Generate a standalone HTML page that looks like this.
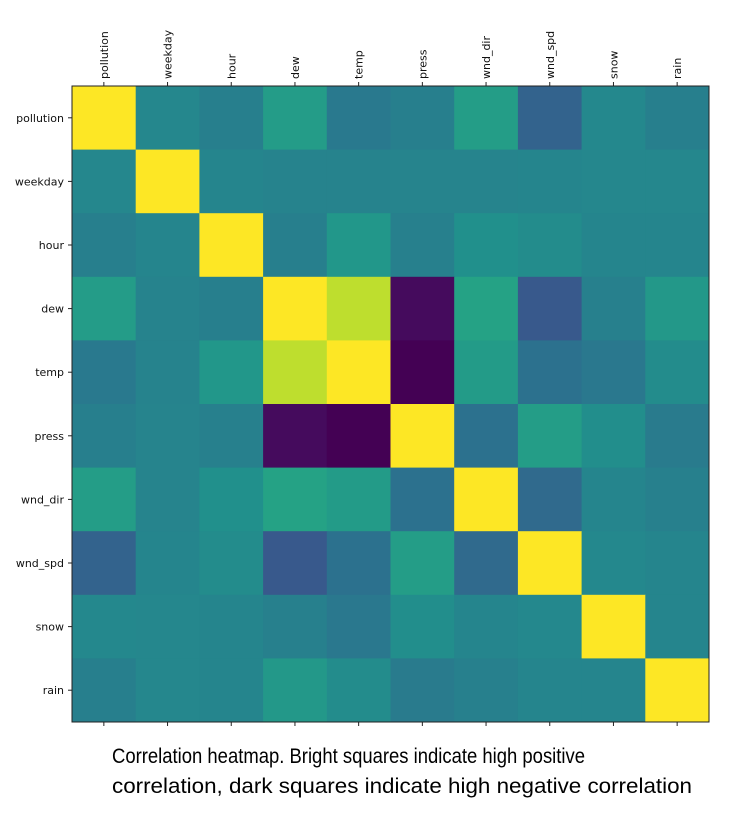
<!DOCTYPE html>
<html><head><meta charset="utf-8"><style>
html,body{margin:0;padding:0;background:#fff;}
svg{display:block;font-family:"DejaVu Sans","Liberation Sans",sans-serif;}
</style></head><body>
<svg id="chart" width="744" height="815" viewBox="0 0 744 815" xmlns="http://www.w3.org/2000/svg">
<g id="cells"></g>
<rect x="72" y="86" width="637" height="636" fill="none" stroke="#222" stroke-width="1"/>
<g id="axes"></g>
<text x="112" y="763" font-family="Liberation Sans, sans-serif" font-size="21" fill="#000" textLength="473" lengthAdjust="spacingAndGlyphs">Correlation heatmap. Bright squares indicate high positive</text>
<text x="112" y="793" font-family="Liberation Sans, sans-serif" font-size="21" fill="#000" textLength="580" lengthAdjust="spacingAndGlyphs">correlation, dark squares indicate high negative correlation</text>
</svg>
<script>
const labels = ["pollution","weekday","hour","dew","temp","press","wnd_dir","wnd_spd","snow","rain"];
const rowPollution = [1,0.01,-0.05,0.17,-0.09,-0.05,0.18,-0.25,0.02,-0.05];
const rowWeekday = [0.01,1,0.0,-0.02,-0.02,-0.01,-0.01,0.0,0.01,0.01];
const rowHour = [-0.05,0.0,1,-0.05,0.13,-0.04,0.08,0.05,0.0,0.0];
const rowDew = [0.17,-0.02,-0.05,1,0.82,-0.78,0.22,-0.32,-0.04,0.14];
const rowTemp = [-0.09,-0.02,0.13,0.82,1,-0.83,0.16,-0.15,-0.1,0.05];
const rowPress = [-0.05,-0.01,-0.04,-0.78,-0.83,1,-0.15,0.18,0.06,-0.08];
const rowWndDir = [0.18,-0.01,0.08,0.22,0.16,-0.15,1,-0.2,0.0,-0.04];
const rowWndSpd = [-0.25,0.0,0.05,-0.32,-0.15,0.18,-0.2,1,0.02,0.0];
const rowSnow = [0.02,0.01,0.0,-0.04,-0.1,0.06,0.0,0.02,1,0.0];
const rowRain = [-0.05,0.01,0.0,0.14,0.05,-0.08,-0.04,0.0,0.0,1];
const matrix = [rowPollution,rowWeekday,rowHour,rowDew,rowTemp,rowPress,rowWndDir,rowWndSpd,rowSnow,rowRain];

const X0=72,Y0=86,W=637,H=636;
const n=labels.length, cw=W/n, ch=H/n;
const xPos=i=>X0+i*cw, yPos=i=>Y0+i*ch;
const flat=matrix.flat(), vmin=Math.min(...flat), vmax=Math.max(...flat);
const stops=[[0,[68,1,84]],[0.125,[71,45,123]],[0.25,[59,82,139]],[0.375,[44,114,142]],[0.5,[33,145,140]],[0.625,[40,174,128]],[0.75,[94,201,98]],[0.875,[173,220,48]],[1,[253,231,37]]];
function viridis(t){t=Math.max(0,Math.min(1,t));for(let k=1;k<stops.length;k++){if(t<=stops[k][0]){const a=stops[k-1],b=stops[k],f=(t-a[0])/(b[0]-a[0]);return 'rgb('+a[1].map((c,j)=>Math.round(c+(b[1][j]-c)*f)).join(',')+')';}}return 'rgb(253,231,37)';}
const NS="http://www.w3.org/2000/svg";
const cells=document.getElementById('cells'), axes=document.getElementById('axes');
matrix.forEach((row,r)=>row.forEach((v,c)=>{
  const el=document.createElementNS(NS,'rect');
  el.setAttribute('x',xPos(c));el.setAttribute('y',yPos(r));
  el.setAttribute('width',cw+0.5);el.setAttribute('height',ch+0.5);
  el.setAttribute('fill',viridis((v-vmin)/(vmax-vmin)));
  
  
  cells.appendChild(el);
}));
labels.forEach((lab,i)=>{
  const cx=xPos(i)+cw/2, cy=yPos(i)+ch/2;
  const t1=document.createElementNS(NS,'line');
  t1.setAttribute('x1',cx);t1.setAttribute('x2',cx);t1.setAttribute('y1',Y0);t1.setAttribute('y2',Y0-4);t1.setAttribute('stroke','#222');
  
  
  axes.appendChild(t1);
  const t2=document.createElementNS(NS,'line');
  t2.setAttribute('x1',cx);t2.setAttribute('x2',cx);t2.setAttribute('y1',Y0+H);t2.setAttribute('y2',Y0+H+4);t2.setAttribute('stroke','#222');
  
  
  axes.appendChild(t2);
  const t3=document.createElementNS(NS,'line');
  t3.setAttribute('x1',X0);t3.setAttribute('x2',X0-4);t3.setAttribute('y1',cy);t3.setAttribute('y2',cy);t3.setAttribute('stroke','#222');
  
  
  axes.appendChild(t3);
  const tx=document.createElementNS(NS,'text');
  tx.setAttribute('transform','translate('+(cx+4)+','+(Y0-7)+') rotate(-90)');
  tx.setAttribute('font-size','11');tx.setAttribute('fill','#111');
  tx.textContent=lab;
  
  
  axes.appendChild(tx);
  const ty=document.createElementNS(NS,'text');
  ty.setAttribute('x',X0-8);ty.setAttribute('y',cy+4);ty.setAttribute('text-anchor','end');
  ty.setAttribute('font-size','11');ty.setAttribute('fill','#111');
  ty.textContent=lab;
  
  
  axes.appendChild(ty);
});
</script>
</body></html>
